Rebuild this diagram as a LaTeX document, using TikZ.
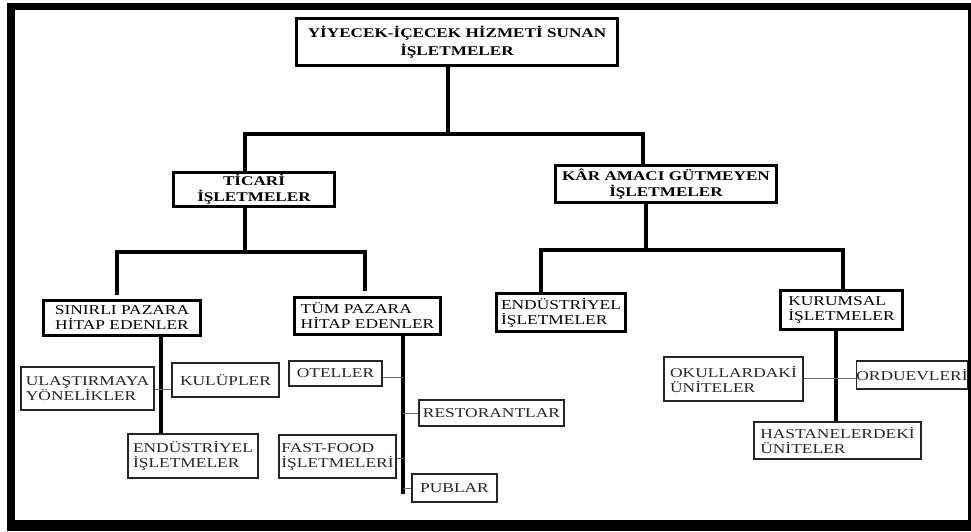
\documentclass[tikz,border=0pt]{standalone}
\usepackage{fontspec}
\setmainfont{Liberation Serif}[FakeStretch=1.29]
\begin{document}
\begin{tikzpicture}[x=1pt,y=-1pt,
  bbox/.style={draw, line width=3pt, inner sep=0pt, align=center, font=\bfseries\fontsize{13.3}{16}\selectfont},
  sbox/.style={draw=black!85, line width=1.3pt, inner sep=0pt, align=left, text=black!85, font=\fontsize{13.5}{15}\selectfont},
  conn/.style={line width=4pt},
  thinconn/.style={line width=1pt, draw=black!60}]
\useasboundingbox (0,0) rectangle (971,531);
\fill[white] (0,0) rectangle (971,531);
\fill[black] (7,3) rectangle (971,531);
\fill[white] (15,10) rectangle (968,520);
% level 0-1
\node[bbox, minimum width=321, minimum height=47, font=\bfseries\fontsize{13.3}{18}\selectfont] (top) at (457,42) {YİYECEK-İÇECEK HİZMETİ SUNAN\\İŞLETMELER};
\node[bbox, minimum width=161, minimum height=34] (tic) at (254,189.5) {TİCARİ\\İŞLETMELER};
\node[bbox, minimum width=221, minimum height=37] (kar) at (666,184) {KÂR AMACI GÜTMEYEN\\İŞLETMELER};
% level 2
\node[bbox, line width=2.5pt, font=\fontsize{13.5}{15}\selectfont, minimum width=157, minimum height=35] (sin) at (122,318) {SINIRLI PAZARA\\HİTAP EDENLER};
\node[bbox, line width=2.5pt, font=\fontsize{13.5}{15}\selectfont, align=left, minimum width=146, minimum height=37] (tum) at (367.5,316) {TÜM PAZARA\\HİTAP EDENLER};
\node[bbox, line width=2.5pt, font=\fontsize{13.5}{15}\selectfont, align=left, minimum width=129, minimum height=38] (endR) at (561,312.5) {ENDÜSTRİYEL\\İŞLETMELER};
\node[bbox, line width=2.5pt, font=\fontsize{13.5}{15}\selectfont, align=left, minimum width=122, minimum height=39] (kur) at (841.5,310) {KURUMSAL\\İŞLETMELER};
% level 3
\node[sbox, minimum width=133, minimum height=43] (ulas) at (87.5,388.5) {ULAŞTIRMAYA\\YÖNELİKLER};
\node[sbox, minimum width=107, minimum height=34] (kul) at (225.5,380) {KULÜPLER};
\node[sbox, minimum width=130, minimum height=44] (endL) at (193,456) {ENDÜSTRİYEL\\İŞLETMELER};
\node[sbox, minimum width=93, minimum height=25] (otel) at (335.5,373.5) {OTELLER};
\node[sbox, minimum width=145, minimum height=26] (rest) at (491.5,413) {RESTORANTLAR};
\node[sbox, minimum width=117, minimum height=43] (fast) at (337.5,456.5) {FAST-FOOD\\İŞLETMELERİ};
\node[sbox, minimum width=85, minimum height=28] (pub) at (454.5,488) {PUBLAR};
\node[sbox, minimum width=139, minimum height=44] (okul) at (733.5,379) {OKULLARDAKİ\\ÜNİTELER};
\node[sbox, minimum width=110, minimum height=28] (ordu) at (912,375) {ORDUEVLERİ};
\node[sbox, minimum width=167, minimum height=37] (hast) at (837.5,440.5) {HASTANELERDEKİ\\ÜNİTELER};
% junction coordinates
\coordinate (j0) at (448,134);
\coordinate (jL) at (245,134);
\coordinate (jR) at (643,134);
\coordinate (t0) at (245,252);
\coordinate (tL) at (117,252);
\coordinate (tR) at (365,252);
\coordinate (k0) at (646,250);
\coordinate (kL) at (541,250);
\coordinate (kR) at (843,250);
\coordinate (sv) at (161,0);
\coordinate (tv) at (403,494);
\coordinate (kv) at (836,0);
% connectors
\draw[conn] (top.south -| j0) -- (j0);
\draw[conn] (tic.north -| jL) -- (jL) -- (jR) -- (kar.north -| jR);
\draw[conn] (tic.south -| t0) -- (t0);
\draw[conn,shorten <=4pt,shorten >=5pt] (sin.north -| tL) -- (tL) -- (tR) -- (tum.north -| tR);
\draw[conn] (kar.south -| k0) -- (k0);
\draw[conn] (endR.north -| kL) -- (kL) -- (kR) -- (kur.north -| kR);
\draw[conn] (sin.south -| sv) -- (endL.north -| sv);
\draw[conn] (tum.south -| tv) -- (tv);
\draw[conn] (kur.south -| kv) -- (hast.north -| kv);
\draw[thinconn] (ulas.east |- 0,389) -- (kul.west |- 0,389);
\draw[thinconn] (otel.east |- 0,377) -- (tv |- 0,377);
\draw[thinconn] (tv |- rest.west) -- (rest.west);
\draw[thinconn] (fast.east |- 0,458) -- (tv |- 0,458);
\draw[thinconn] (tv |- pub.west) -- (pub.west);
\draw[thinconn] (okul.east |- 0,378) -- (ordu.west |- 0,378);
\end{tikzpicture}
\end{document}
